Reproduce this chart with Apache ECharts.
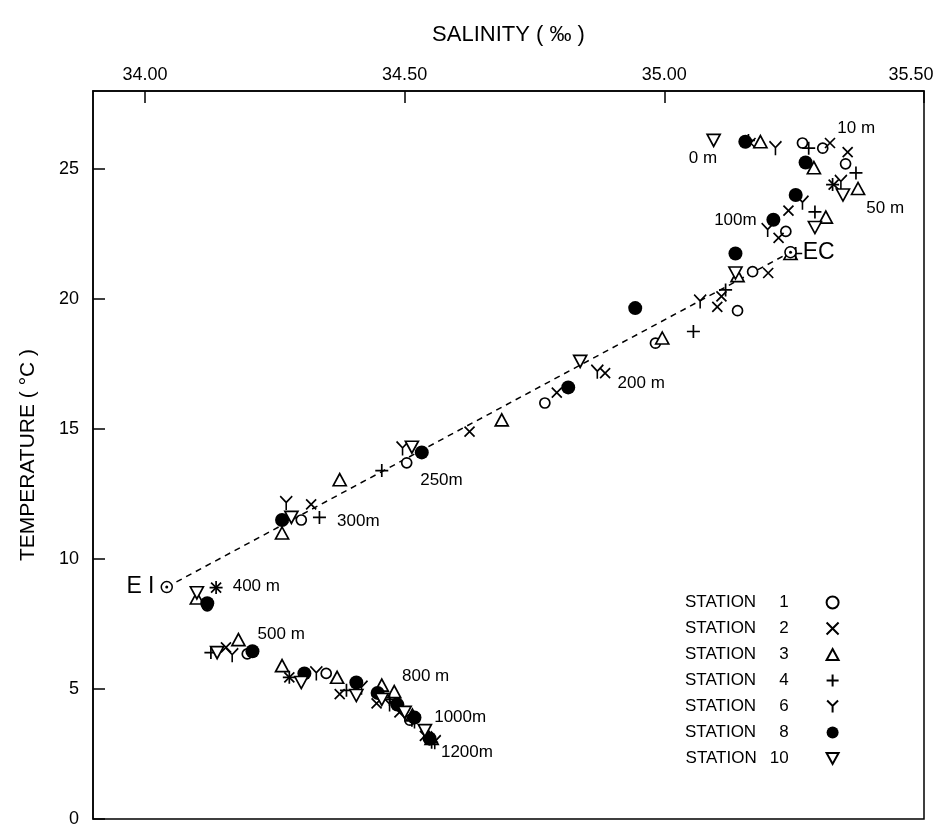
<!DOCTYPE html>
<html><head><meta charset="utf-8">
<script src="https://cdn.jsdelivr.net/npm/echarts@6/dist/echarts.min.js"></script>
<style>html,body{margin:0;padding:0;background:#fff}#c{width:938px;height:826px}</style>
</head><body><div id="c"></div>
<script>
// Salinity (‰), Temperature (°C) per station
const station1 = [[35.266,26.0],[35.305,25.8],[35.349,25.2],[35.234,22.6],[35.243,21.8],[35.17,21.05],[35.141,19.55],[34.983,18.3],[34.77,16.0],[34.504,13.7],[34.301,11.5],[34.12,8.2],[34.197,6.35],[34.349,5.6],[34.481,4.6],[34.51,3.8],[34.548,3.05]];
const station2 = [[35.166,26.0],[35.319,26.0],[35.353,25.65],[35.326,24.4],[35.239,23.4],[35.22,22.35],[35.2,21.0],[35.11,20.1],[35.102,19.7],[34.886,17.15],[34.793,16.4],[34.625,14.9],[34.32,12.1],[34.137,8.9],[34.156,6.6],[34.278,5.45],[34.375,4.8],[34.446,4.45],[34.49,4.1],[34.539,3.2]];
const station3 = [[35.185,26.05],[35.288,25.05],[35.373,24.25],[35.311,23.15],[35.243,21.75],[35.141,20.9],[34.996,18.5],[34.687,15.35],[34.375,13.05],[34.264,11.0],[34.10,8.5],[34.18,6.9],[34.264,5.9],[34.37,5.45],[34.456,5.15],[34.48,4.9],[34.515,4.0],[34.552,3.1]];
const station4 = [[35.162,26.1],[35.278,25.8],[35.369,24.85],[35.324,24.4],[35.29,23.35],[35.253,21.75],[35.118,20.35],[35.056,18.75],[34.456,13.4],[34.336,11.6],[34.137,8.9],[34.127,6.4],[34.278,5.45],[34.388,4.95],[34.471,4.6],[34.514,3.8],[34.552,2.95]];
const station6 = [[35.214,25.8],[35.34,24.5],[35.266,23.7],[35.199,22.65],[35.069,19.9],[34.871,17.2],[34.496,14.25],[34.272,12.15],[34.168,6.3],[34.33,5.6],[34.417,5.05],[34.471,4.4],[34.519,3.75],[34.558,2.95]];
const station8 = [[35.156,26.05],[35.272,25.25],[35.253,24.0],[35.21,23.05],[35.137,21.75],[34.944,19.65],[34.815,16.6],[34.533,14.1],[34.264,11.5],[34.12,8.3],[34.207,6.45],[34.307,5.6],[34.407,5.25],[34.448,4.85],[34.486,4.4],[34.519,3.9],[34.548,3.1]];
const station10 = [[35.095,26.1],[35.344,24.0],[35.29,22.75],[35.137,21.0],[34.838,17.6],[34.514,14.3],[34.282,11.6],[34.10,8.7],[34.139,6.4],[34.301,5.25],[34.407,4.75],[34.456,4.6],[34.50,4.1],[34.539,3.4]];
// water-mass end points
const endPoints = [[34.042,8.92,'EI'],[35.243,21.8,'EC']];
// depth annotations [S, T, text]
const depthLabels = [[35.046,25.42,'0 m'],[35.332,26.58,'10 m'],[35.388,23.5,'50 m'],[35.095,23.04,'100m'],[34.909,16.77,'200 m'],[34.529,13.04,'250m'],[34.369,11.46,'300m'],[34.168,8.96,'400 m'],[34.216,7.12,'500 m'],[34.494,5.5,'800 m'],[34.556,3.92,'1000m'],[34.569,2.58,'1200m']];
const xTicks = [34.0,34.5,35.0,35.5];
const yTicks = [0,5,10,15,20,25];
const stationNames = ['1','2','3','4','6','8','10'];

const FONT = 'Liberation Sans';
const stroke = {color:'rgba(0,0,0,0)', borderColor:'#000', borderWidth:1.7, opacity:1};
const symbols = [
  {sym:'circle', size:10, style:{color:'#fff', borderColor:'#000', borderWidth:1.7, opacity:1}},
  {sym:'path://M0,0 L10,10 M10,0 L0,10', size:10, style:stroke},
  {sym:'path://M5,0 L10,9 L0,9 Z', size:[13,12], style:{color:'#fff', borderColor:'#000', borderWidth:1.7, opacity:1}},
  {sym:'path://M5,0 L5,10 M0,5 L10,5', size:13, style:stroke},
  {sym:'path://M0,0 L5,5 L10,0 M5,5 L5,11', size:[12,14], style:stroke},
  {sym:'circle', size:14, style:{color:'#000', borderColor:'#000', borderWidth:0, opacity:1}},
  {sym:'path://M0,0 L10,0 L5,9 Z', size:[13,12], style:{color:'#fff', borderColor:'#000', borderWidth:1.7, opacity:1}}
];
const stationData = [station1,station2,station3,station4,station6,station8,station10];

const series = [];
series.push({type:'line', name:'line', data:endPoints.map(p=>[p[0],p[1]]), symbol:'none',
  lineStyle:{color:'#000', type:[6,5], width:1.5}, silent:true, z:1});
stationData.forEach((d,i)=>{
  series.push({type:'scatter', name:'STATION '+stationNames[i], data:d, symbol:symbols[i].sym,
    symbolSize:symbols[i].size, itemStyle:symbols[i].style, z:3});
});
series.push({type:'scatter', name:'ends', data:endPoints.map(p=>({value:[p[0],p[1]], label:{position:p[2]==='EI'?'left':'right'}, name:p[2]})),
  symbol:'circle', symbolSize:11, itemStyle:{color:'#fff', borderColor:'#000', borderWidth:1.5, opacity:1}, z:4,
  label:{show:true, formatter:p=>p.data.name==='EI'?'E I':'EC', color:'#000', fontFamily:FONT, fontSize:23, distance:6}});
series.push({type:'scatter', name:'endsDot', data:endPoints.map(p=>[p[0],p[1]]), symbol:'circle', symbolSize:3,
  itemStyle:{color:'#000', opacity:1}, z:5});
series.push({type:'scatter', name:'depths', data:depthLabels.map(p=>({value:[p[0],p[1]], name:p[2]})),
  symbolSize:1, itemStyle:{color:'rgba(0,0,0,0)', opacity:1}, z:6,
  label:{show:true, position:'right', distance:0, formatter:p=>p.data.name, color:'#000', fontFamily:FONT, fontSize:17}});

const chart = echarts.init(document.getElementById('c'));
chart.setOption({
  animation:false,
  backgroundColor:'#fff',
  grid:{left:93, right:14, top:91, bottom:7, show:true, borderColor:'#000', borderWidth:1.5, outerBoundsMode:'none', containLabel:false},
  xAxis:{type:'value', position:'top', min:33.9, max:35.5,
    name:'SALINITY ( ‰ )', nameLocation:'middle', nameGap:45,
    nameTextStyle:{fontFamily:FONT, fontSize:22, color:'#000'},
    axisLine:{onZero:false, lineStyle:{color:'#000', width:1.5}},
    axisTick:{inside:true, length:12, customValues:xTicks, lineStyle:{color:'#000', width:1.5}},
    axisLabel:{customValues:xTicks, fontFamily:FONT, fontSize:18, color:'#000', margin:7,
      formatter:v=>v>=35.5?'{r|'+v.toFixed(2)+'}':v.toFixed(2),
      rich:{r:{fontFamily:FONT, fontSize:18, color:'#000', padding:[0,26,0,0]}}},
    splitLine:{show:false}},
  yAxis:{type:'value', min:0, max:28,
    name:'TEMPERATURE ( °C )', nameLocation:'middle', nameGap:54,
    nameTextStyle:{fontFamily:FONT, fontSize:21, color:'#000'},
    axisLine:{onZero:false, lineStyle:{color:'#000', width:1.5}},
    axisTick:{inside:true, length:12, customValues:yTicks, lineStyle:{color:'#000', width:1.5}},
    axisLabel:{customValues:yTicks, fontFamily:FONT, fontSize:18, color:'#000', margin:14},
    splitLine:{show:false}},
  legend:{show:true, orient:'vertical', left:685, top:594, padding:0, align:'right', itemGap:9,
    itemWidth:12, itemHeight:12, selectedMode:false,
    data:stationNames.map(n=>'STATION '+n),
    formatter:n=>{const k=n.replace('STATION ',''); return k.length===1?'{a|STATION}{b|'+k+'}':'{a|STATION}{c|'+k+'}';},
    textStyle:{fontFamily:FONT, fontSize:17, color:'#000', lineHeight:16,
      rich:{a:{fontFamily:FONT, fontSize:17, color:'#000', lineHeight:16, padding:[0,23,0,0]},
            b:{fontFamily:FONT, fontSize:17, color:'#000', lineHeight:16, padding:[0,33,0,0]},
            c:{fontFamily:FONT, fontSize:17, color:'#000', lineHeight:16, padding:[0,33,0,-10]}}}},
  series:series
});
</script></body></html>
